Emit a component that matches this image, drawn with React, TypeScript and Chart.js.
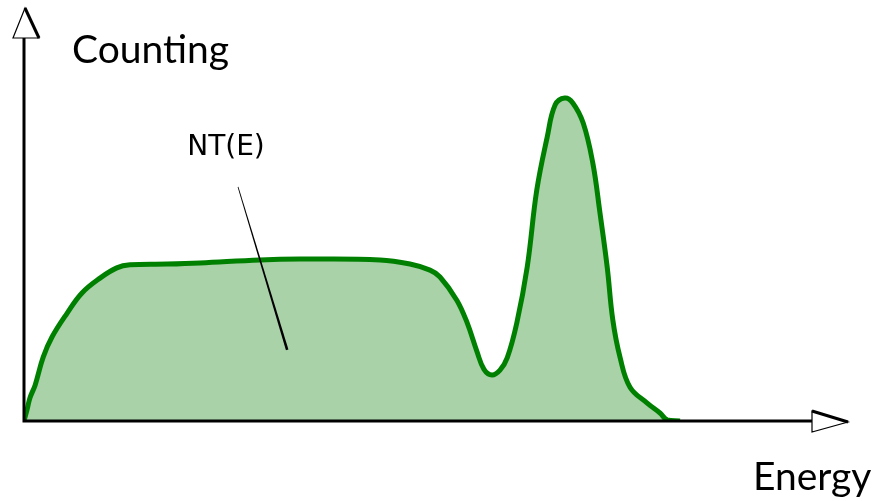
import React, { useEffect, useRef } from "react";
import { Chart, registerables } from "chart.js";

Chart.register(...registerables);

// Schematic spectrum: energy (arbitrary units) vs counting (arbitrary units)
const energy = [0, 0.375, 0.75, 1.4, 2.4, 3.5, 5.4, 7.25, 9.5, 11.6, 13.25, 17.9, 22, 29.5, 34.5, 44.5, 48.25, 50.75, 52, 54.1, 55.4, 56.6, 57.5, 58.5, 59.5, 60.4, 61.6, 62.9, 64.1, 65.4, 66.4, 67.6, 68.6, 69.9, 71.1, 72, 72.9, 73.6, 74.5, 75.75, 77.9, 79.5, 80.4, 82];
const counting = [0, 2.9, 6.1, 9.5, 16.8, 22.1, 28.4, 33.7, 37.6, 40.3, 41.1, 41.3, 41.6, 42.4, 42.6, 42.4, 41.3, 39.7, 37.9, 31.8, 25.8, 18.4, 13.6, 12.1, 13.4, 16.6, 25.8, 40.5, 60.8, 74.7, 83.2, 85, 83.7, 78.4, 67.9, 54.7, 40.5, 26.6, 16.8, 8.9, 4.7, 2.1, 0.3, 0];

const yAxisTitle = "Counting";
const xAxisTitle = "Energy";
const curveLabel = "NT(E)";
// annotation pointer (data units): from label towards the area
const pointerFrom = { x: 26.75, y: 61.6 };
const pointerTo = { x: 32.9, y: 18.7 };
const labelAt = { x: 20.4, y: 70.0 };

const decorPlugin = {
  id: "decor",
  afterDatasetsDraw(chart: any) {
    const { ctx, chartArea, scales } = chart;
    const xs = scales.x;
    const ys = scales.y;
    const left = chartArea.left;
    const bottom = chartArea.bottom;
    ctx.save();
    // axes lines
    ctx.strokeStyle = "#000";
    ctx.lineWidth = 3;
    ctx.lineCap = "butt";
    ctx.beginPath();
    ctx.moveTo(left, bottom + 1.5);
    ctx.lineTo(left, chartArea.top - 3);
    ctx.moveTo(left - 1.5, bottom);
    ctx.lineTo(chartArea.right - 12, bottom);
    ctx.stroke();

    // y arrow (open triangle)
    const yb = chartArea.top - 3;
    ctx.beginPath();
    ctx.moveTo(left - 11, yb);
    ctx.lineTo(left + 15, yb);
    ctx.lineTo(left + 1, yb - 30);
    ctx.closePath();
    ctx.fillStyle = "#fff";
    ctx.fill();
    ctx.lineWidth = 1.2;
    ctx.stroke();
    ctx.lineWidth = 3;
    ctx.beginPath();
    ctx.moveTo(left + 1, yb - 30);
    ctx.lineTo(left + 15, yb);
    ctx.stroke();

    // x arrow (open triangle)
    const xb = chartArea.right - 12;
    ctx.beginPath();
    ctx.moveTo(xb, bottom - 10);
    ctx.lineTo(xb, bottom + 11);
    ctx.lineTo(xb + 36, bottom + 1);
    ctx.closePath();
    ctx.fillStyle = "#fff";
    ctx.fill();
    ctx.lineWidth = 1.2;
    ctx.stroke();
    ctx.lineWidth = 3;
    ctx.beginPath();
    ctx.moveTo(xb, bottom - 10);
    ctx.lineTo(xb + 36, bottom + 1);
    ctx.stroke();

    // axis titles
    ctx.fillStyle = "#000";
    ctx.textBaseline = "alphabetic";
    ctx.textAlign = "left";
    ctx.font = "39px Lato, 'Open Sans', sans-serif";
    ctx.fillText(yAxisTitle, left + 48, chartArea.top + 22);
    ctx.fillText(xAxisTitle, chartArea.right - 71, bottom + 69);

    // curve label + pointer
    ctx.font = "28px 'DejaVu Sans', sans-serif";
    ctx.fillText(curveLabel, xs.getPixelForValue(labelAt.x), ys.getPixelForValue(labelAt.y));
    const x1 = xs.getPixelForValue(pointerFrom.x);
    const y1 = ys.getPixelForValue(pointerFrom.y);
    const x2 = xs.getPixelForValue(pointerTo.x);
    const y2 = ys.getPixelForValue(pointerTo.y);
    const dx = x2 - x1;
    const dy = y2 - y1;
    const len = Math.hypot(dx, dy);
    const nx = -dy / len;
    const ny = dx / len;
    ctx.beginPath();
    ctx.moveTo(x1 + nx * 0.4, y1 + ny * 0.4);
    ctx.lineTo(x2 + nx * 1.3, y2 + ny * 1.3);
    ctx.lineTo(x2 - nx * 1.3, y2 - ny * 1.3);
    ctx.lineTo(x1 - nx * 0.4, y1 - ny * 0.4);
    ctx.closePath();
    ctx.fill();
    ctx.restore();
  },
};

export default function App() {
  const ref = useRef<HTMLCanvasElement | null>(null);
  useEffect(() => {
    if (!ref.current) return;
    const chart = new Chart(ref.current, {
      type: "line",
      data: {
        datasets: [
          {
            data: energy.map((e, i) => ({ x: e, y: counting[i] })),
            borderColor: "#008000",
            borderWidth: 5,
            backgroundColor: "#a9d2a8",
            fill: "origin",
            pointRadius: 0,
            tension: 0.4,
            capBezierPoints: true,
          },
        ],
      },
      options: {
        responsive: false,
        animation: false,
        layout: { padding: { left: 24, right: 49, top: 41, bottom: 80 } },
        plugins: { legend: { display: false }, tooltip: { enabled: false } },
        scales: {
          x: { type: "linear", min: 0, max: 100, display: false },
          y: { type: "linear", min: 0, max: 100, display: false },
        },
      },
      plugins: [decorPlugin],
    });
    return () => chart.destroy();
  }, []);
  return (
    <div style={{ position: "fixed", left: 0, top: 0, width: 873, height: 501, background: "#fff" }}>
      <canvas ref={ref} width={873} height={501} style={{ display: "block" }} />
    </div>
  );
}
